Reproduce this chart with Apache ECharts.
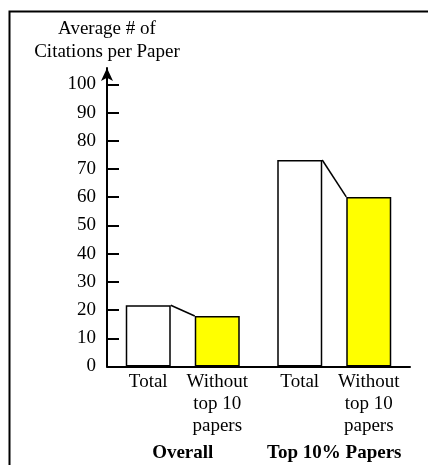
<!DOCTYPE html>
<html>
<head>
<meta charset="utf-8">
<script src="https://cdn.jsdelivr.net/npm/echarts@6/dist/echarts.min.js"></script>
<style>
html,body{margin:0;padding:0;background:#fff;}
#chart{width:428px;height:465px;}
</style>
</head>
<body>
<div id="chart"></div>
<script>
// ---- data ----
const groups = ['Overall', 'Top 10% Papers'];
const seriesNames = ['Total', 'Without top 10 papers'];
const barLabels = ['Total', 'Without\ntop 10\npapers'];
const totalValues = [21.7, 73.2];
const withoutValues = [17.9, 60.1];
const yTicks = [0, 10, 20, 30, 40, 50, 60, 70, 80, 90, 100];
const yTitle = 'Average # of\nCitations per Paper';

// ---- style ----
const FONT = 'Liberation Serif';
const BAR_W = 45;
const GAP_PX = 24;

const chart = echarts.init(document.getElementById('chart'), null, {renderer: 'canvas'});

const labelStyle = {
  show: true, position: 'bottom', distance: 5,
  fontFamily: FONT, fontSize: 19, lineHeight: 22, color: '#000'
};

chart.setOption({
  backgroundColor: '#fff',
  animation: false,
  grid: {left: 107, right: 18, top: 68, bottom: 98.5, containLabel: false},
  xAxis: {
    type: 'category',
    data: groups,
    axisLine: {lineStyle: {color: '#000', width: 2}},
    axisTick: {show: false},
    axisLabel: {
      interval: 0, hideOverlap: false,
      margin: 77, fontFamily: FONT, fontSize: 19, fontWeight: 'bold', color: '#000'
    },
    splitLine: {show: false}
  },
  yAxis: {
    type: 'value',
    min: 0,
    max: 105.8,
    name: yTitle,
    nameLocation: 'end',
    nameGap: 4,
    nameTextStyle: {
      fontFamily: FONT, fontSize: 19, lineHeight: 23, color: '#000', align: 'center'
    },
    axisLine: {
      show: true,
      symbol: ['none', 'arrow'],
      symbolSize: [9, 13],
      lineStyle: {color: '#000', width: 2}
    },
    axisTick: {
      show: true, inside: true, length: 12,
      customValues: yTicks,
      lineStyle: {color: '#000', width: 2}
    },
    axisLabel: {
      customValues: yTicks,
      margin: 11, fontFamily: FONT, fontSize: 19, color: '#000'
    },
    splitLine: {show: false}
  },
  graphic: [{
    type: 'polyline',
    shape: {points: [[9.5, 470], [9.5, 11.5], [430, 11.5]]},
    style: {stroke: '#000', lineWidth: 2, fill: null},
    silent: true
  }],
  series: [
    {
      name: seriesNames[0],
      type: 'bar',
      data: totalValues,
      barWidth: BAR_W,
      barGap: (GAP_PX / BAR_W * 100) + '%',
      itemStyle: {color: '#fff', borderColor: '#000', borderWidth: 1.5},
      label: Object.assign({}, labelStyle, {formatter: barLabels[0]})
    },
    {
      name: seriesNames[1],
      type: 'bar',
      data: withoutValues,
      barWidth: BAR_W,
      itemStyle: {color: '#ffff00', borderColor: '#000', borderWidth: 1.5},
      label: Object.assign({}, labelStyle, {formatter: barLabels[1]})
    },
    {
      name: 'connector',
      type: 'custom',
      z: 5,
      clip: false,
      data: groups.map((g, i) => [i, totalValues[i], withoutValues[i]]),
      encode: {x: 0, y: [1, 2]},
      renderItem: function (params, api) {
        const p1 = api.coord([api.value(0), api.value(1)]);
        const p2 = api.coord([api.value(0), api.value(2)]);
        return {
          type: 'line',
          shape: {x1: p1[0] - GAP_PX / 2, y1: p1[1], x2: p2[0] + GAP_PX / 2, y2: p2[1]},
          style: {stroke: '#000', lineWidth: 1.5}
        };
      }
    }
  ]
});
</script>
</body>
</html>
